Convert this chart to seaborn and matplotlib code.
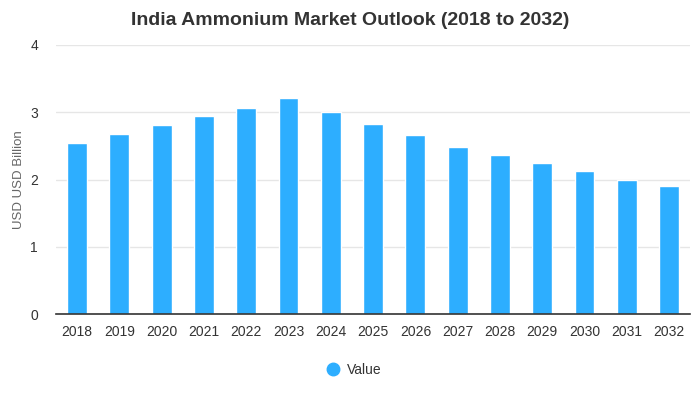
import matplotlib
matplotlib.use("Agg")
import matplotlib.pyplot as plt
import seaborn as sns
import pandas as pd
from matplotlib.lines import Line2D

years = ["2018", "2019", "2020", "2021", "2022", "2023", "2024", "2025",
         "2026", "2027", "2028", "2029", "2030", "2031", "2032"]
values = [2.54, 2.67, 2.81, 2.94, 3.06, 3.21, 3.00, 2.82,
          2.66, 2.49, 2.36, 2.24, 2.12, 2.00, 1.90]
y_ticks = [0, 1, 2, 3, 4]

title = "India Ammonium Market Outlook (2018 to 2032)"
y_label = "USD USD Billion"
series_name = "Value"
bar_color = "#2DAEFF"

sns.set_theme(style="white")
plt.rcParams['font.family'] = ['Liberation Sans', 'DejaVu Sans']

df = pd.DataFrame({"Year": years, "Value": values})

fig = plt.figure(figsize=(7, 4), dpi=100)
ax = fig.add_axes([0.08, 0.215, 0.906, 0.6725])

sns.barplot(data=df, x="Year", y="Value", color=bar_color, width=0.47,
            saturation=1, ax=ax, zorder=3)

ax.set_ylim(0, 4)
ax.set_yticks(y_ticks)
ax.set_xlim(-0.5, len(years) - 0.5)
ax.grid(axis="y", color="#e6e6e6", linewidth=1, zorder=0)
for s in ["top", "right", "left"]:
    ax.spines[s].set_visible(False)
ax.spines["bottom"].set_color("#333333")
ax.spines["bottom"].set_linewidth(1.2)
ax.spines["bottom"].set_zorder(4)

ax.tick_params(axis="x", length=0, labelsize=10, labelcolor="#333333", pad=8)
ax.tick_params(axis="y", length=0, labelsize=10, labelcolor="#333333", pad=13)
ax.set_xlabel("")
ax.set_ylabel(y_label, fontsize=9.5, color="#666666", labelpad=4)

fig.suptitle(title, x=0.5, y=0.97, fontsize=14, fontweight="bold", color="#333333")

handle = Line2D([], [], marker="o", linestyle="", markersize=9,
                markerfacecolor=bar_color, markeredgecolor=bar_color)
fig.legend([handle], [series_name], loc="center", bbox_to_anchor=(0.5, 0.075),
           frameon=False, fontsize=10, labelcolor="#333333", handletextpad=0.0)

fig.savefig("out.png", dpi=100)
